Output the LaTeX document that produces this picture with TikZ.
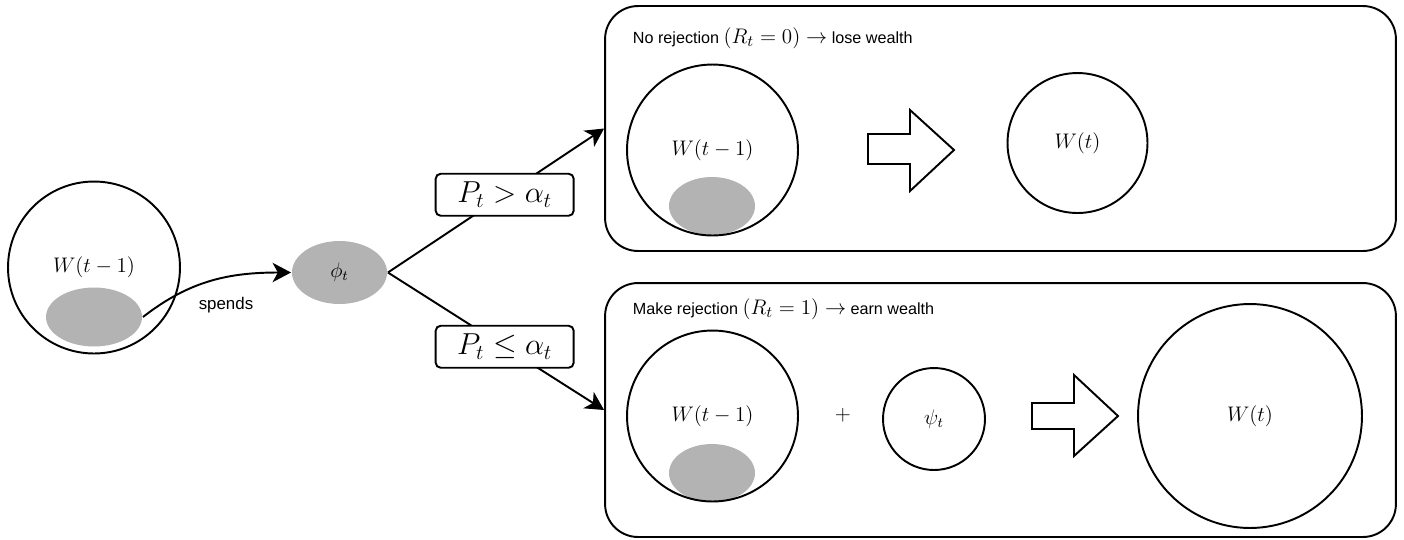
\documentclass[tikz,border=0pt]{standalone}
\usepackage{fontspec}
\setmainfont{Liberation Sans}
\usetikzlibrary{arrows.meta,shapes.geometric}
\definecolor{spendgray}{HTML}{B3B3B3}
\newcommand{\bigmath}[1]{{\fontsize{12.2}{14}\selectfont$#1$}}
\begin{document}
\begin{tikzpicture}[x=0.02cm,y=-0.02cm,line width=1.1pt,
  wcirc/.style={circle,draw,inner sep=0pt,font=\fontsize{11.5}{14}\selectfont},
  spendell/.style={ellipse,fill=spendgray,draw=none,inner sep=0pt,font=\fontsize{11.5}{14}\selectfont},
  panel/.style={rectangle,draw,rounded corners=0.66cm,minimum width=15.82cm,inner sep=0pt},
  cond/.style={rectangle,draw,fill=white,rounded corners=0.1cm,minimum width=2.76cm,minimum height=0.84cm,inner sep=0pt,font=\fontsize{17}{20}\selectfont},
  ttl/.style={anchor=west,inner sep=0pt,font=\fontsize{9.2}{12}\selectfont},
  tip/.style={-{Stealth[length=10.5pt,width=11pt,inset=3pt]}},
  bigarrow/.style={draw,fill=white,line width=1.1pt}
]
\useasboundingbox (0,0) rectangle (1404,539);

% panels
\node[panel,minimum height=4.9cm] (top) at (1000.5,128.5) {};
\node[panel,minimum height=5.08cm] (bot) at (1000.5,410) {};
\node[ttl] (toptitle) at (632,38) {No rejection \bigmath{(R_t=0)\to} lose wealth};
\node[ttl] (bottitle) at (632,309) {Make rejection \bigmath{(R_t=1)\to} earn wealth};

% left wealth
\node[spendell,minimum width=1.92cm,minimum height=1.18cm] (g0) at (94,317) {};
\node[wcirc,minimum size=3.44cm] (w0) at (94,267.5) {$W(t-1)$};

% phi
\node[spendell,minimum width=1.9cm,minimum height=1.26cm] (phi) at (339.5,272.5) {$\phi_t$};

\draw[tip] (g0.east) to[out=38,in=180] (phi.west);
\node[inner sep=0pt,font=\fontsize{9.6}{11}\selectfont] (spends) at (226,305) {spends};

% branches
\draw[tip] (phi.east) -- node[cond,pos=0.54] (c1) {$P_t>\alpha_t$} (top.west);
\draw[tip] (phi.east) -- node[cond,pos=0.54] (c2) {$P_t\le\alpha_t$} (bot.west);

% top panel content
\node[spendell,minimum width=1.72cm,minimum height=1.16cm] (g1) at (712,206) {};
\node[wcirc,minimum size=3.42cm] (w1) at (712.5,150) {$W(t-1)$};
\draw[bigarrow] (868,134) -- (910,134) -- (910,110) -- (954,150) -- (910,191) -- (910,164) -- (868,164) -- cycle;
\node[wcirc,minimum size=2.8cm] (w1t) at (1077.5,143) {$W(t)$};

% bottom panel content
\node[spendell,minimum width=1.72cm,minimum height=1.16cm] (g2) at (712,473) {};
\node[wcirc,minimum size=3.42cm] (w2) at (712.5,416) {$W(t-1)$};
\node[font=\fontsize{11.5}{14}\selectfont,inner sep=0pt] (plus) at (843,415) {$+$};
\node[wcirc,minimum size=2.04cm] (psi) at (934,419) {$\psi_t$};
\draw[bigarrow] (1032,403) -- (1074,403) -- (1074,375) -- (1118,416) -- (1074,456) -- (1074,429) -- (1032,429) -- cycle;
\node[wcirc,minimum size=4.48cm] (w2t) at (1250,416) {$W(t)$};
\end{tikzpicture}
\end{document}
